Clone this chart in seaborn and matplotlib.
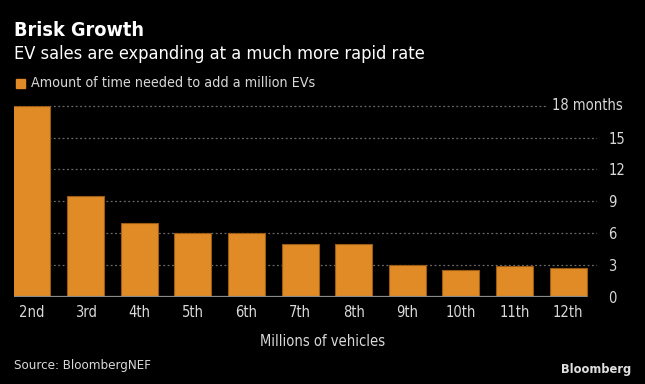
import matplotlib
matplotlib.use('Agg')
import matplotlib.pyplot as plt
import seaborn as sns
import pandas as pd

milestones = ['2nd', '3rd', '4th', '5th', '6th', '7th', '8th', '9th', '10th', '11th', '12th']
months = [18, 9.5, 7, 6, 6, 5, 5, 3, 2.5, 2.9, 2.7]
yticks = [0, 3, 6, 9, 12, 15]

sns.set_theme(style='dark')
plt.rcParams['font.family'] = ['DejaVu Sans']
plt.rcParams['font.stretch'] = 'condensed'

bar_color = '#e08b25'
txt = '#d9d9d9'

df = pd.DataFrame({'milestone': milestones, 'months': months})

fig = plt.figure(figsize=(6.45, 3.84), dpi=100, facecolor='black')
ax = fig.add_axes([13.6 / 645, 1 - 297 / 384, (597 - 13.6) / 645, (297 - 105.7) / 384])
ax.set_facecolor('black')

# dotted gridlines first so bars sit on top
for v in yticks[1:]:
    ax.axhline(v, color='#6a6a6a', lw=0.9, ls=(0, (1.5, 2)), zorder=0)
ax.axhline(18, xmax=0.912, color='#6a6a6a', lw=0.9, ls=(0, (1.5, 2)), zorder=0, clip_on=False)

sns.barplot(data=df, x='milestone', y='months', color=bar_color, saturation=1,
            width=0.69, edgecolor='#9a5c14', linewidth=0.8, ax=ax, zorder=2)

ax.axhline(0, xmin=0, xmax=(586 - 13.6) / (597 - 13.6), color='#8a8a8a', lw=1.6, zorder=3)

ax.set_xlim(-0.343, 10.54)
ax.set_ylim(0, 18)
ax.yaxis.tick_right()
ax.set_yticks(yticks)
ax.set_yticklabels([str(v) for v in yticks])
ax.tick_params(axis='y', length=0, pad=8, labelsize=10.5, labelcolor=txt)
ax.tick_params(axis='x', length=0, pad=6, labelsize=10.5, labelcolor=txt)
ax.text(1.0446, 18, '18 months', transform=ax.get_yaxis_transform(), ha='right',
        va='center', fontsize=10.5, color=txt)
ax.set_xlabel('')
ax.set_ylabel('')
for s in ax.spines.values():
    s.set_visible(False)
ax.grid(False)

fig.text(14 / 645, 1 - 31 / 384, 'Brisk Growth', fontsize=14.2, fontweight='bold',
         color='white', va='center')
fig.text(14 / 645, 1 - 54 / 384, 'EV sales are expanding at a much more rapid rate',
         fontsize=13.1, color='white', va='center')
fig.patches.append(plt.Rectangle((16 / 645, 1 - 88 / 384), 9 / 645, 9 / 384,
                                 transform=fig.transFigure, color=bar_color))
fig.text(31 / 645, 1 - 83 / 384, 'Amount of time needed to add a million EVs',
         fontsize=10.3, color=txt, va='center')
fig.text(0.5, 1 - 342 / 384, 'Millions of vehicles', fontsize=10.5, color=txt,
         ha='center', va='center')
fig.text(14 / 645, 1 - 365 / 384, 'Source: BloombergNEF', fontsize=9.5, color=txt,
         va='center')
fig.text(631 / 645, 1 - 370 / 384, 'Bloomberg', fontsize=9.2, fontweight='bold',
         color='#e0e0e0', ha='right', va='center')

fig.savefig('out.png', dpi=100, facecolor='black')
